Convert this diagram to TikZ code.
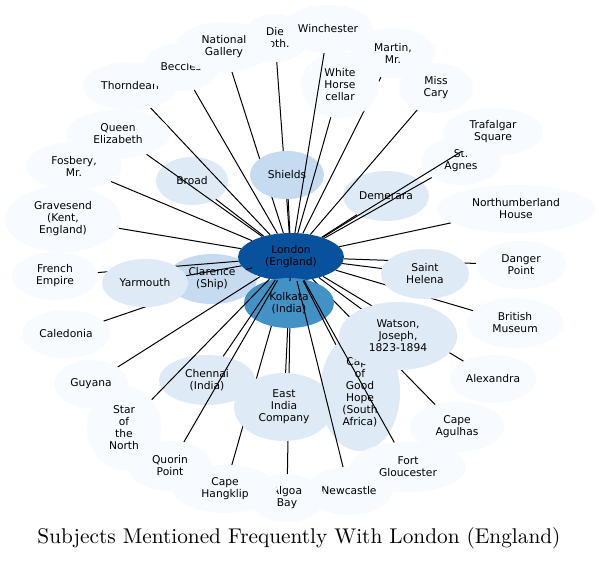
\documentclass[tikz,border=0pt]{standalone}
\usepackage{fontspec}
\newfontfamily\dvs{DejaVu Sans}
\newfontfamily\titlefont{lmroman10-regular.otf}
\usetikzlibrary{shapes.geometric}
\definecolor{b1}{HTML}{F7FBFF}
\definecolor{b2}{HTML}{DEEBF7}
\definecolor{b3}{HTML}{C6DBEF}
\definecolor{b6}{HTML}{4292C6}
\definecolor{b8}{HTML}{08519C}
\pgfdeclarelayer{bg}
\pgfdeclarelayer{edgesA}
\pgfdeclarelayer{nodesA}
\pgfdeclarelayer{edgesB}
\pgfsetlayers{bg,edgesA,nodesA,edgesB,main}
\tikzset{
  nd/.style={ellipse, inner sep=0pt, align=center, text=black, font=\dvs\fontsize{10.7}{12}\selectfont},
  v1/.style={nd, fill=b1}, v2/.style={nd, fill=b2}, v3/.style={nd, fill=b3},
  v6/.style={nd, fill=b6}, v8/.style={nd, fill=b8},
  sz/.style 2 args={minimum width=#1pt, minimum height=#2pt},
  link/.style={draw=black, line width=1pt},
}
\begin{document}
\begin{tikzpicture}[x=1pt,y=-1pt]
\begin{pgfonlayer}{bg}
\fill[white] (0,0) rectangle (599,560);
\end{pgfonlayer}
\useasboundingbox (0,0) rectangle (599,560);
% early nodes
\begin{pgfonlayer}{nodesA}
\node[v3, sz={90}{50}] (Clarence) at (212,279) {Clarence\\(Ship)};
\node[v8, sz={106}{48}] (London) at (291,257) {London\\(England)};
\node[v6, sz={90}{50}] (Kolkata) at (289,303) {Kolkata\\(India)};
\node[v2, sz={96}{50}] (Chennai) at (207,380) {Chennai\\(India)};
\node[v2, sz={100}{68}] (EIC) at (284,407) {East\\India\\Company};
\node[v2, sz={80}{118}] (CapeGH) at (360,392) {Cape\\of\\Good\\Hope\\(South\\Africa)};
\node[v2, sz={72}{48}] (Broad) at (192,181) {Broad};
\node[v3, sz={74}{48}] (Shields) at (287,175) {Shields};
\node[v2, sz={86}{50}] (Demerara) at (386,196) {Demerara};
\node[v1, sz={80}{48}] (StAgnes) at (461,161) {St.\\Agnes};
\node[v1, sz={78}{66}] (WhiteHorse) at (340,85) {White\\Horse\\cellar};
\end{pgfonlayer}
% late nodes
\node[v1, sz={94}{48}] (Thorndean) at (130,86) {Thorndean};
\node[v1, sz={76}{48}] (Beccles) at (181,67) {Beccles};
\node[v1, sz={66}{48}] (Die) at (275,38) {Die\\Noth.};
\node[v1, sz={96}{50}] (NatGal) at (224,47) {National\\Gallery};
\node[v1, sz={90}{48}] (Winchester) at (328,29) {Winchester};
\node[v1, sz={84}{50}] (Martin) at (393,53) {Martin,\\Mr.};
\node[v1, sz={74}{50}] (MissCary) at (436,88) {Miss\\Cary};
\node[v1, sz={100}{48}] (Trafalgar) at (493,132) {Trafalgar\\Square};
\node[v1, sz={158}{48}] (Northumberland) at (516,209) {Northumberland\\House};
\node[v1, sz={90}{48}] (DangerPt) at (521,265) {Danger\\Point};
\node[v2, sz={88}{50}] (SaintHelena) at (425,274) {Saint\\Helena};
\node[v1, sz={96}{50}] (BritMus) at (515,323) {British\\Museum};
\node[v2, sz={118}{68}] (Watson) at (398,336) {Watson,\\Joseph,\\1823-1894};
\node[v1, sz={86}{48}] (Alexandra) at (493,379) {Alexandra};
\node[v1, sz={94}{50}] (Agulhas) at (457,427) {Cape\\Agulhas};
\node[v1, sz={116}{50}] (FortG) at (408,467) {Fort\\Gloucester};
\node[v1, sz={86}{48}] (Newcastle) at (349,491) {Newcastle};
\node[v1, sz={74}{48}] (Algoa) at (287,498) {Algoa\\Bay};
\node[v1, sz={104}{48}] (Hangklip) at (225,489) {Cape\\Hangklip};
\node[v1, sz={84}{50}] (Quorin) at (170,466) {Quorin\\Point};
\node[v1, sz={74}{84}] (Star) at (124,428) {Star\\of\\the\\North};
\node[v1, sz={74}{48}] (Guyana) at (91,384) {Guyana};
\node[v1, sz={88}{48}] (Caledonia) at (66,334) {Caledonia};
\node[v1, sz={86}{48}] (French) at (55,276) {French\\Empire};
\node[v2, sz={86}{48}] (Yarmouth) at (145,283) {Yarmouth};
\node[v1, sz={116}{66}] (Gravesend) at (63,219) {Gravesend\\(Kent,\\England)};
\node[v1, sz={96}{48}] (Fosbery) at (74,166) {Fosbery,\\Mr.};
\node[v1, sz={104}{48}] (QueenE) at (118,134) {Queen\\Elizabeth};
% hidden edges
\begin{pgfonlayer}{edgesA}
\foreach \t in {Caledonia,EIC,Algoa,Hangklip,Martin,Die,NatGal,DangerPt,BritMus,Alexandra,Agulhas}
  \draw[link] (London) -- (\t);
\end{pgfonlayer}
% visible edges
\begin{pgfonlayer}{edgesB}
\foreach \t in {French,Yarmouth,Guyana,Star,Quorin,Chennai,Newcastle,FortG,CapeGH,Watson,SaintHelena,Northumberland,Demerara,StAgnes,Trafalgar,MissCary,WhiteHorse,Winchester,Beccles,Thorndean,QueenE,Fosbery,Gravesend,Broad,Shields,Kolkata,Clarence}
  \draw[link] (London) -- (\t);
\end{pgfonlayer}
\node (title) at (299,538) {\titlefont\fontsize{21.3}{25}\selectfont Subjects Mentioned Frequently With London (England)};
\end{tikzpicture}
\end{document}
